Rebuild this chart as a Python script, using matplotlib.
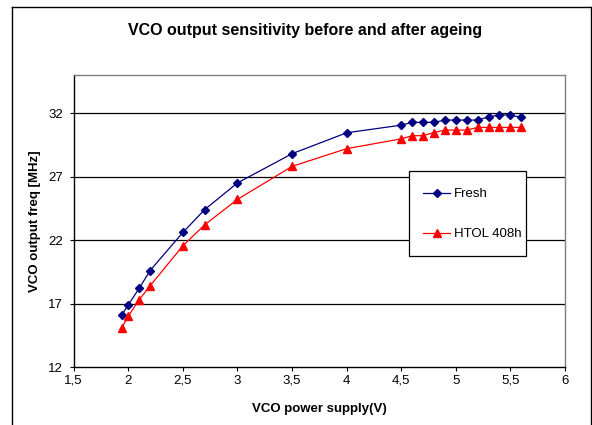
import matplotlib
matplotlib.use("Agg")
import matplotlib.pyplot as plt
from matplotlib.lines import Line2D
from matplotlib.patches import Rectangle

plt.rcParams['font.family'] = ['Liberation Sans', 'DejaVu Sans']

x_fresh = [1.94, 2.0, 2.1, 2.2, 2.5, 2.7, 3.0, 3.5, 4.0, 4.5, 4.6, 4.7, 4.8, 4.9, 5.0, 5.1, 5.2, 5.3, 5.4, 5.5, 5.6]
y_fresh = [16.1, 16.9, 18.2, 19.6, 22.6, 24.4, 26.5, 28.8, 30.45, 31.05, 31.27, 31.27, 31.27, 31.45, 31.45, 31.45, 31.45, 31.7, 31.85, 31.85, 31.66]
x_htol = [1.94, 2.0, 2.1, 2.2, 2.5, 2.7, 3.0, 3.5, 4.0, 4.5, 4.6, 4.7, 4.8, 4.9, 5.0, 5.1, 5.2, 5.3, 5.4, 5.5, 5.6]
y_htol = [15.1, 16.0, 17.3, 18.4, 21.55, 23.2, 25.2, 27.8, 29.2, 29.97, 30.22, 30.22, 30.47, 30.66, 30.66, 30.66, 30.87, 30.87, 30.87, 30.87, 30.87]

x_ticks = [1.5, 2, 2.5, 3, 3.5, 4, 4.5, 5, 5.5, 6]
x_tick_labels = ["1,5", "2", "2,5", "3", "3,5", "4", "4,5", "5", "5,5", "6"]
y_ticks = [12, 17, 22, 27, 32]

W, H = 592, 425
fig = plt.figure(figsize=(W/100, H/100), dpi=100)

def fx(px):
    return px / W

def fy(py):
    return 1 - py / H

# outer chart border
fig.add_artist(Line2D([fx(12), fx(12)], [0, fy(7)], transform=fig.transFigure, color='black', lw=1))
fig.add_artist(Line2D([fx(12), fx(590.5)], [fy(7), fy(7)], transform=fig.transFigure, color='black', lw=1))
fig.add_artist(Line2D([fx(590.5), fx(590.5)], [0, fy(7)], transform=fig.transFigure, color='black', lw=1))

L, R, T, B = 73.7, 565, 75, 367
ax = fig.add_axes([fx(L), fy(B), (R - L)/W, (B - T)/H])
ax.set_xlim(1.5, 6)
ax.set_ylim(12, 35)

for yv in y_ticks[1:]:
    ax.axhline(yv, color='black', lw=0.9, zorder=1)

ax.plot(x_fresh, y_fresh, color='#000080', marker='D', markersize=4.3, lw=0.9, label='Fresh', zorder=3)
ax.plot(x_htol, y_htol, color='#FF0000', marker='^', markersize=5.5, lw=0.9, label='HTOL 408h', zorder=3)

ax.set_xticks(x_ticks)
ax.set_xticklabels(x_tick_labels)
ax.set_yticks(y_ticks)
ax.tick_params(axis='both', labelsize=9.5, direction='out', length=3, width=0.8, color='black')
ax.tick_params(axis='x', pad=2.5)
ax.tick_params(axis='y', pad=4.5)

for s in ['left', 'bottom']:
    ax.spines[s].set_color('black')
    ax.spines[s].set_linewidth(1)
for s in ['top', 'right']:
    ax.spines[s].set_color('#808080')
    ax.spines[s].set_linewidth(1)

ax.set_xlabel('VCO power supply(V)', fontsize=9.5, fontweight='bold')
ax.set_ylabel('VCO output freq [MHz]', fontsize=9.5, fontweight='bold')
ax.xaxis.label.set_va('center')
ax.yaxis.label.set_va('center')
ax.xaxis.set_label_coords((319 - L)/(R - L), (B - 409)/(B - T))
ax.yaxis.set_label_coords((35 - L)/(R - L), 0.5)

fig.text(fx(305.5), fy(30), 'VCO output sensitivity before and after ageing',
         ha='center', va='center', fontsize=11.5, fontweight='bold')

# legend frame
frame = Rectangle((fx(409), fy(256)), (526 - 409)/W, (256 - 171)/H,
                  transform=fig.transFigure, facecolor='white', edgecolor='black', lw=0.9,
                  zorder=4, clip_on=False)
ax.add_patch(frame)
leg = ax.legend(loc='upper left', bbox_to_anchor=(fx(422.7), fy(188)), bbox_transform=fig.transFigure,
                fontsize=9.5, frameon=False, borderpad=0, labelspacing=2.1,
                handlelength=2.1, handletextpad=0.3, borderaxespad=0)
leg.set_zorder(5)

fig.savefig('out.png', dpi=100)
